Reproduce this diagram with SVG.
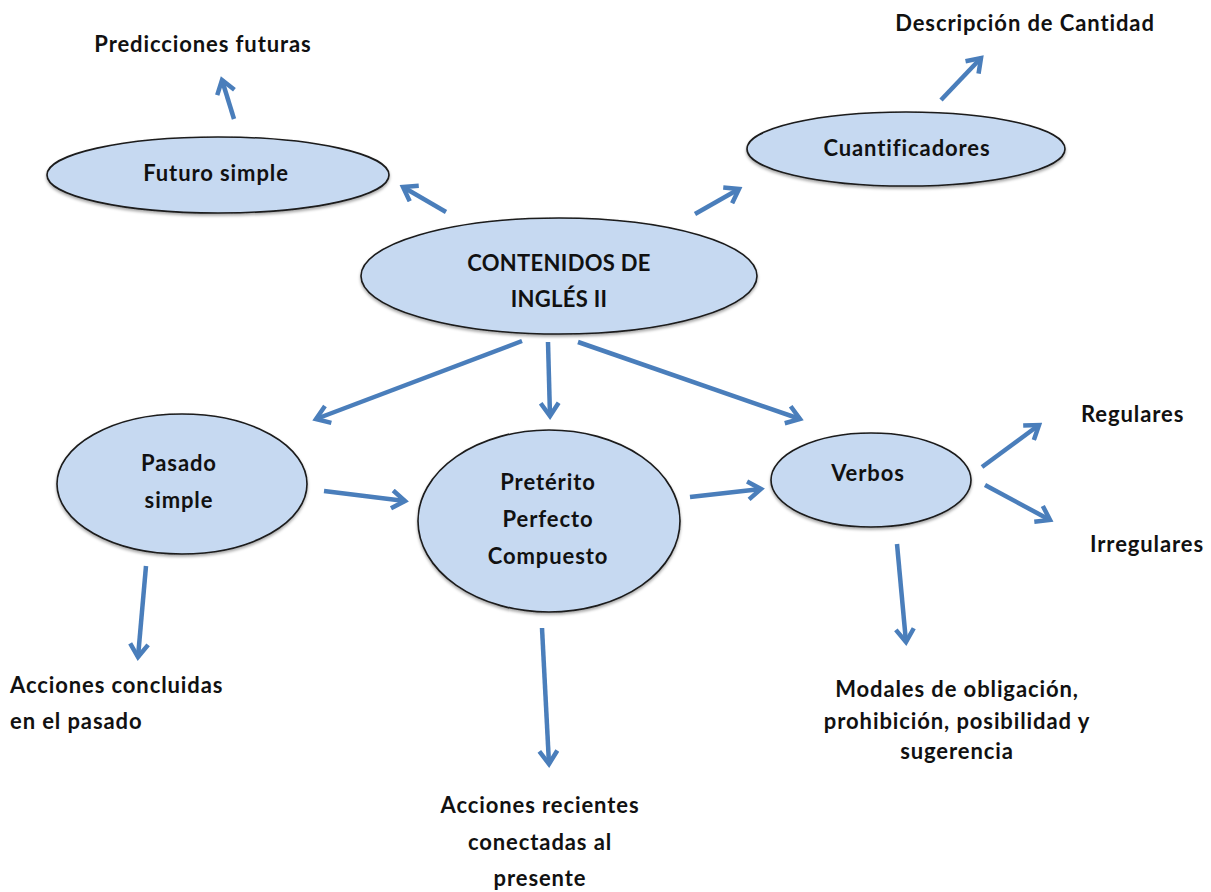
<svg xmlns="http://www.w3.org/2000/svg" width="1211" height="892" viewBox="0 0 1211 892">
<style>
.node ellipse{fill:#c6d9f1;stroke:#1a1a1a;stroke-width:1.6;filter:url(#sh)}
text{font-family:Lato,"Open Sans","Liberation Sans",sans-serif;font-weight:bold;font-size:22px;letter-spacing:0.9px;fill:#111}
.c{text-anchor:middle}
.caps{letter-spacing:0.3px}
#connectors line{stroke:#4a7ebb;stroke-width:4.5;fill:none;marker-end:url(#ah)}
</style>
<defs>
<filter id="sh" x="-10%" y="-10%" width="120%" height="130%">
<feDropShadow dx="0" dy="2" stdDeviation="1.5" flood-color="#000" flood-opacity="0.35"/>
</filter>
<marker id="ah" viewBox="-16 -11 20 22" markerWidth="20" markerHeight="22" refX="0" refY="0" orient="auto" markerUnits="userSpaceOnUse">
<path d="M-13,-9 L0,0 L-13,9" fill="none" stroke="#4a7ebb" stroke-width="4.5" stroke-linejoin="miter"/>
</marker>
</defs>
<rect width="1211" height="892" fill="#fff"/>
<g id="connectors">
<line x1="234" y1="119" x2="222" y2="80"/>
<line x1="941" y1="100" x2="981" y2="58"/>
<line x1="695" y1="214" x2="739" y2="189"/>
<line x1="446" y1="212" x2="403" y2="187"/>
<line x1="522" y1="341" x2="316" y2="419"/>
<line x1="548" y1="342" x2="550" y2="416"/>
<line x1="578" y1="342" x2="800" y2="419"/>
<line x1="324" y1="491" x2="405" y2="501"/>
<line x1="146" y1="566" x2="138" y2="657"/>
<line x1="690" y1="497" x2="761" y2="489"/>
<line x1="542" y1="628" x2="549" y2="764"/>
<line x1="982" y1="467" x2="1039" y2="425"/>
<line x1="985" y1="485" x2="1050" y2="520"/>
<line x1="897" y1="544" x2="906" y2="642"/>
</g>
<g id="n-center" class="node"><ellipse cx="559" cy="276" rx="198" ry="58"/><text class="c caps" x="559" y="271">CONTENIDOS DE</text><text class="c caps" x="559" y="307">INGLÉS II</text></g>
<g id="n-futuro" class="node"><ellipse cx="218" cy="175" rx="171" ry="38"/><text class="c" x="216" y="181">Futuro simple</text></g>
<g id="n-cuant" class="node"><ellipse cx="906" cy="149" rx="159" ry="37"/><text class="c" x="907" y="156">Cuantificadores</text></g>
<g id="n-pasado" class="node"><ellipse cx="182" cy="484" rx="125" ry="70"/><text class="c" x="179" y="471">Pasado</text><text class="c" x="179" y="508">simple</text></g>
<g id="n-pret" class="node"><ellipse cx="549" cy="521" rx="131" ry="91"/><text class="c" x="548" y="490">Pretérito</text><text class="c" x="548" y="527">Perfecto</text><text class="c" x="548" y="564">Compuesto</text></g>
<g id="n-verbos" class="node"><ellipse cx="871" cy="480" rx="100" ry="47"/><text class="c" x="868" y="481">Verbos</text></g>
<g id="t-pred"><text class="c" x="203" y="52">Predicciones futuras</text></g>
<g id="t-desc"><text class="c" x="1025" y="31">Descripción de Cantidad</text></g>
<g id="t-concl"><text x="10" y="693">Acciones concluidas</text><text x="10" y="729">en el pasado</text></g>
<g id="t-recientes"><text class="c" x="540" y="813">Acciones recientes</text><text class="c" x="540" y="850">conectadas al</text><text class="c" x="540" y="886">presente</text></g>
<g id="t-reg"><text x="1081" y="422">Regulares</text></g>
<g id="t-irreg"><text x="1090" y="552">Irregulares</text></g>
<g id="t-modales"><text class="c" x="957" y="697">Modales de obligación,</text><text class="c" x="957" y="729">prohibición, posibilidad y</text><text class="c" x="957" y="759">sugerencia</text></g>
</svg>
